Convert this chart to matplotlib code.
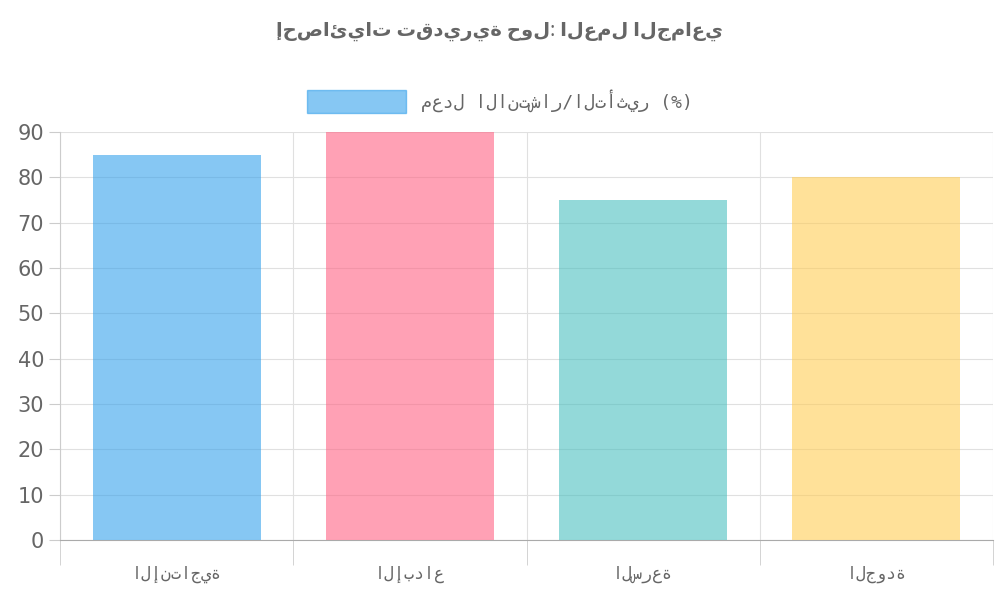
import matplotlib
matplotlib.use("Agg")
import matplotlib.pyplot as plt
from matplotlib.patches import Patch

categories = ["الإنتاجية", "الإبداع", "السرعة", "الجودة"]
values = [85, 90, 75, 80]
colors = ["#36a2eb", "#ff6384", "#4bc0c0", "#ffcd56"]
title = "إحصائيات تقديرية حول: العمل الجماعي"
legend_label = "معدل الانتشار/التأثير (%)"

plt.rcParams['font.family'] = ['DejaVu Sans', 'Noto Sans']
fig = plt.figure(figsize=(10, 6), dpi=100)
ax = fig.add_axes([0.06, 0.1, 0.933, 0.68])
x = list(range(len(categories)))
ax.bar(x, values, width=0.72, color=colors, alpha=0.6, zorder=3)
ax.set_xlim(-0.5, len(categories) - 0.5)
ax.set_ylim(0, 90)
ax.set_yticks(range(0, 91, 10))
ax.set_xticks(x)
ax.set_xticklabels(categories, family=['DejaVu Sans Mono', 'DejaVu Sans'], fontsize=12, color='#666')
ax.set_xticks([i - 0.5 for i in range(len(categories) + 1)], minor=True)
ax.tick_params(axis='x', which='major', length=0, pad=18)
ax.tick_params(axis='x', which='minor', length=18, color='#ccc')
ax.tick_params(axis='y', length=8, color='#ccc', labelsize=15, labelcolor='#666')
ax.grid(axis='y', color='#e0e0e0', zorder=0)
ax.grid(axis='x', which='minor', color='#e0e0e0', zorder=0)
for s in ['top', 'right']:
    ax.spines[s].set_visible(False)
ax.spines['left'].set_color('#ccc')
ax.spines['bottom'].set_color('#aaa')
fig.text(0.5, 0.94, title, ha='center', fontsize=14, fontweight='bold', color='#666',
         family=['Noto Sans', 'DejaVu Sans'])
leg = fig.legend(handles=[Patch(color=colors[0], alpha=0.6)], labels=[legend_label],
                 loc='center', bbox_to_anchor=(0.5, 0.832), frameon=False,
                 prop={'family': ['DejaVu Sans Mono', 'DejaVu Sans'], 'size': 13},
                 handlelength=5.5, handleheight=1.6)
for t in leg.get_texts():
    t.set_color('#666')
fig.savefig("out.png")
